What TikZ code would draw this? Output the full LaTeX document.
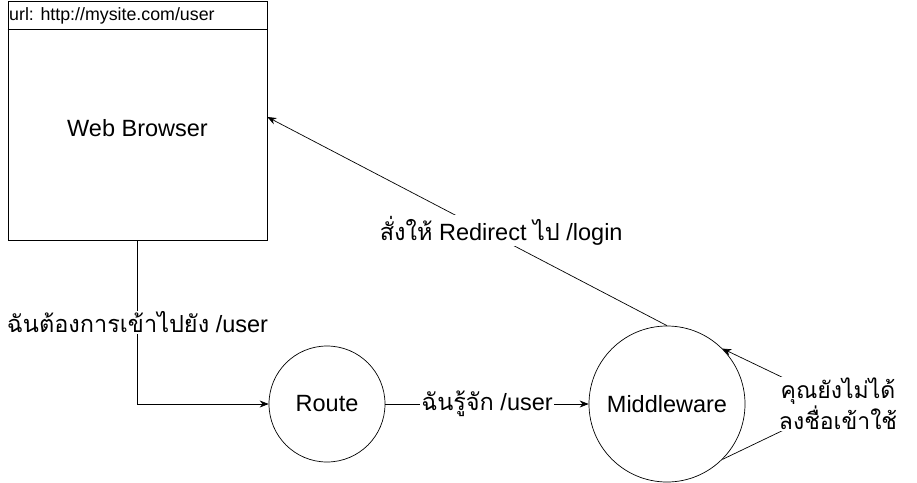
\documentclass[tikz,border=0pt]{standalone}
\usepackage{fontspec}
\setmainfont{Liberation Sans}
\newfontfamily\thaifont[Script=Thai]{Loma}
\usetikzlibrary{arrows.meta}
\newcommand{\thtxt}[1]{{\thaifont #1}}
\begin{document}
\begin{tikzpicture}[x=1pt,y=-1pt,
  every node/.style={font=\fontsize{23.5}{27}\selectfont},
  arr/.style={-{Stealth[length=9pt,width=7pt]}, line width=0.7pt},
  lbl/.style={fill=white, inner sep=1pt, align=center},
  circ/.style={draw, circle, inner sep=0pt, line width=0.7pt}]
\useasboundingbox (0,0) rectangle (917,482);
\node[draw, line width=0.7pt, minimum width=259pt, minimum height=239pt, inner sep=0pt] (br) at (137.5,120.5) {};
\draw[line width=0.7pt] (br.north west) ++(0,29) coordinate (hl) -- (br.north east |- hl);
\node[anchor=west, inner sep=0pt, font=\fontsize{17.8}{20}\selectfont] (url) at (9,16) {url: http://mysite.com/user};
\node (wb) at (137.5,128) {Web Browser};
\node[circ, minimum size=116pt] (route) at (327,404) {Route};
\node[circ, minimum size=156pt] (mw) at (667,404) {Middleware};
\draw[arr] (br.south) |- (route.west) node[lbl, pos=0.25] {\thtxt{ฉันต้องการเข้าไปยัง} /user};
\draw[arr] (route.east) -- (mw.west) node[lbl, midway] {\thtxt{ฉันรู้จัก} /user};
\draw[arr] (mw.north) -- ([yshift=3.5pt]br.east) node[lbl, pos=0.465, xshift=20pt, yshift=-2pt] {\thtxt{สั่งให้} Redirect \thtxt{ไป} /login};
\draw[arr] (mw.-45) -- (838,404) node[lbl, font=\thaifont\fontsize{23}{27}\selectfont] (note) {คุณยังไม่ได้\\ลงชื่อเข้าใช้} -- (mw.45);
\end{tikzpicture}
\end{document}
